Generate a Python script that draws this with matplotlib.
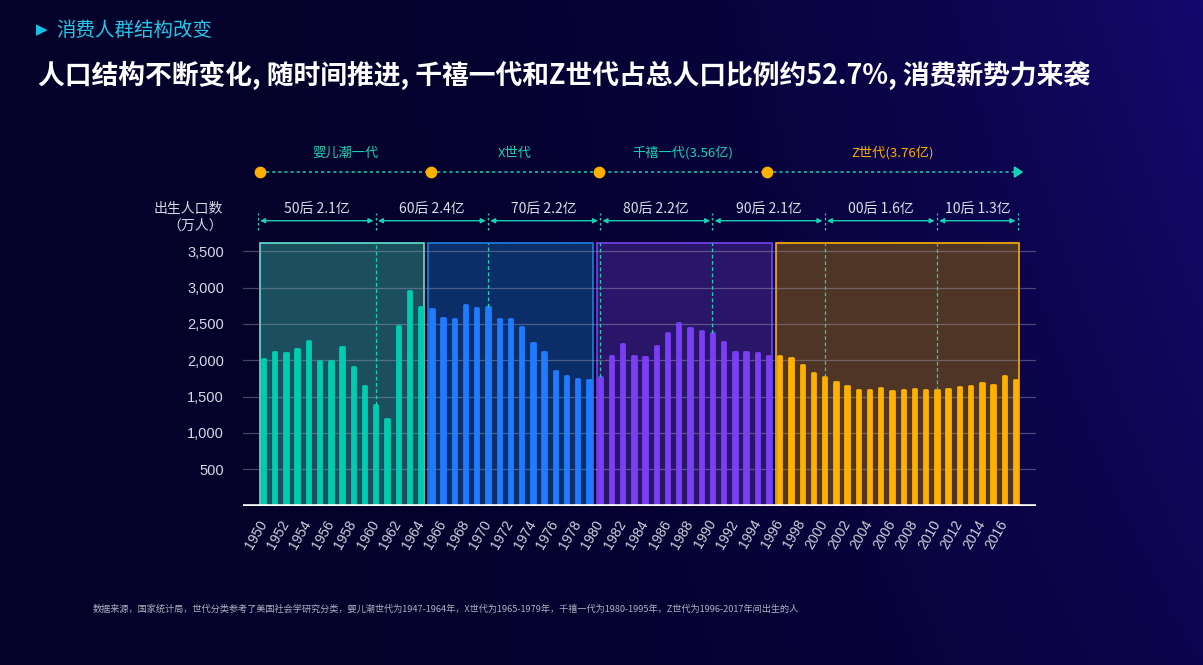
import numpy as np
import matplotlib
matplotlib.use('Agg')
import matplotlib.pyplot as plt
from matplotlib.patches import Rectangle, Polygon

plt.rcParams['font.family'] = ['Noto Sans CJK SC', 'DejaVu Sans']

# births per year (万人), 1950-2017
years = np.arange(1950, 2018)
births = [2023, 2107, 2105, 2151, 2260, 1984, 1989, 2178, 1910, 1650,
          1389, 1194, 2465, 2959, 2729, 2709, 2577, 2564, 2757, 2715,
          2736, 2567, 2566, 2463, 2235, 2109, 1853, 1786, 1745, 1726,
          1776, 2064, 2230, 2052, 2050, 2196, 2374, 2508, 2445, 2396,
          2374, 2250, 2113, 2120, 2098, 2052, 2057, 2028, 1934, 1827,
          1765, 1696, 1641, 1594, 1588, 1612, 1581, 1591, 1604, 1587,
          1588, 1600, 1635, 1640, 1687, 1655, 1786, 1723]

gen_names = ['婴儿潮一代', 'X世代', '千禧一代(3.56亿)', 'Z世代(3.76亿)']
gen_start = [1950, 1965, 1980, 1996]
gen_end = [1964, 1979, 1995, 2017]
gen_bar_colors = ['#00cdb0', '#1f7bff', '#7a3ff5', '#ffb000']
gen_box_fill = ['#1b4f5e', '#0b2e68', '#2a1668', '#4f3526']
gen_box_edge = ['#5ee3d0', '#1e7fe0', '#7344f0', '#ffb000']
gen_text_colors = ['#19d2b6', '#19d2b6', '#19d2b6', '#ffb000']

decade_labels = ['50后 2.1亿', '60后 2.4亿', '70后 2.2亿', '80后 2.2亿',
                 '90后 2.1亿', '00后 1.6亿', '10后 1.3亿']
decade_edges = [1949.5, 1960, 1970, 1980, 1990, 2000, 2010, 2017.2]

footnote = ('数据来源，国家统计局，世代分类参考了美国社会学研究分类，婴儿潮世代为1947-1964年，'
            'X世代为1965-1979年，千禧一代为1980-1995年，Z世代为1996-2017年间出生的人')

W, H = 1203, 665
fig = plt.figure(figsize=(W / 100, H / 100), dpi=100)

# background gradient
bg = fig.add_axes([0, 0, 1, 1], zorder=-5)
gx, gy = np.meshgrid(np.linspace(0, 1, 300), np.linspace(0, 1, 200))
t = np.clip(gx ** 2.6 * (1 - 0.45 * gy), 0, 1)[..., None]
c0 = np.array([4, 1, 42]) / 255
c1 = np.array([22, 8, 110]) / 255
bg.imshow(c0 + t * (c1 - c0), aspect='auto', extent=[0, 1, 0, 1])
bg.axis('off')

# main axes, pixel geometry
x0, x1, ytop, ybase = 243.3, 1035.7, 130, 505.6
ax = fig.add_axes([x0 / W, (H - ybase) / H, (x1 - x0) / W, (ybase - ytop) / H])
ax.patch.set_alpha(0)
px_per_unit = 0.07267
ymax = (ybase - ytop) / px_per_unit
ax.set_xlim(1948.2, 2018.8)
ax.set_ylim(0, ymax)
for s in ax.spines.values():
    s.set_visible(False)

# generation boxes
box_top = 3610
for i in range(4):
    ax.add_patch(Rectangle((gen_start[i] - 0.3, 0), gen_end[i] - gen_start[i] + 0.62, box_top,
                           facecolor=gen_box_fill[i], edgecolor=gen_box_edge[i], lw=1.2, zorder=1))

# grid
for v in range(500, 4000, 500):
    ax.axhline(v, color='#9a9ab4', alpha=0.45, lw=0.9, zorder=2)

# bars
colors = []
for y in years:
    for i in range(4):
        if gen_start[i] <= y <= gen_end[i]:
            colors.append(gen_bar_colors[i])
ax.bar(years, births, width=0.3, color=colors, edgecolor=colors, lw=2.0,
       joinstyle='round', zorder=3)
ax.axhline(0, color='white', lw=2.6, zorder=4)

# dashed lines from box top to decade bar tops
for yr in decade_edges[1:-1]:
    ax.plot([yr, yr], [births[yr - 1950], box_top], ls=(0, (3, 2)), color='#19d2b6', lw=0.9, zorder=3)

# ticks
ax.set_yticks(range(500, 4000, 500))
ax.set_yticklabels([f'{v:,}' for v in range(500, 4000, 500)], fontsize=10.5,
                   color='#d8d8e4', family='Liberation Sans')
ax.set_xticks(range(1950, 2017, 2))
ax.set_xticklabels([str(v) for v in range(1950, 2017, 2)], rotation=60, fontsize=10,
                   color='#d0d0dc', family='Liberation Sans', ha='right', va='center',
                   rotation_mode='anchor')
ax.tick_params(length=0)
ax.tick_params(axis='y', pad=14)
ax.tick_params(axis='x', pad=11)

# y axis title
ax.text(1946.4, 4081, '出生人口数', ha='right', va='center', fontsize=10, color='#d8d8e4', clip_on=False)
ax.text(1946.4, 3848, '（万人）', ha='right', va='center', fontsize=10, color='#d8d8e4', clip_on=False)

# decade arrows
line_c = '#19d2b6'
for i in range(len(decade_labels)):
    a, b = decade_edges[i], decade_edges[i + 1]
    ax.annotate('', xy=(b - 0.2, 3920), xytext=(a + 0.2, 3920),
                arrowprops=dict(arrowstyle='<|-|>', color=line_c, lw=1.0,
                                mutation_scale=7, shrinkA=0, shrinkB=0))
    ax.text((a + b) / 2, 4081, decade_labels[i], ha='center', va='center',
            fontsize=10, color='#dcdce6')
for e in decade_edges:
    ax.plot([e, e], [3790, 4030], ls=(0, (2, 2)), color=line_c, lw=0.9, clip_on=False)

# generation timeline
dots = [1949.65, 1964.9, 1979.9, 1994.9]
ax.plot([dots[0], 2017.0], [4590, 4590], ls=(0, (2, 2)), color=line_c, lw=1.1, clip_on=False)
ax.add_patch(Polygon([[2016.9, 4660], [2016.9, 4520], [2017.6, 4590]], color=line_c, clip_on=False))
ax.scatter(dots, [4590] * 4, s=55, color='#ffb000', zorder=5, clip_on=False)
ends = dots[1:] + [2017.2]
for i in range(4):
    ax.text((dots[i] + ends[i]) / 2, 4852, gen_names[i], ha='center', va='center',
            fontsize=9.5, color=gen_text_colors[i])

# titles
fig.text(36 / W, 1 - 30 / H, '▶', fontsize=11, color='#16c2e8', va='center', ha='left',
         family='DejaVu Sans')
fig.text(56 / W, 1 - 30 / H, '消费人群结构改变', fontsize=14, color='#22c8ea', va='center', ha='left')
fig.text(38 / W, 1 - 75 / H, '人口结构不断变化, 随时间推进, 千禧一代和Z世代占总人口比例约52.7%, 消费新势力来袭',
         fontsize=19.3, color='white', weight='bold', va='center', ha='left')
fig.text(93 / W, 1 - 609 / H, footnote, fontsize=6.6, color='#b0b0c0', va='center', ha='left')

fig.savefig('out.png', dpi=100, facecolor=fig.get_facecolor())
